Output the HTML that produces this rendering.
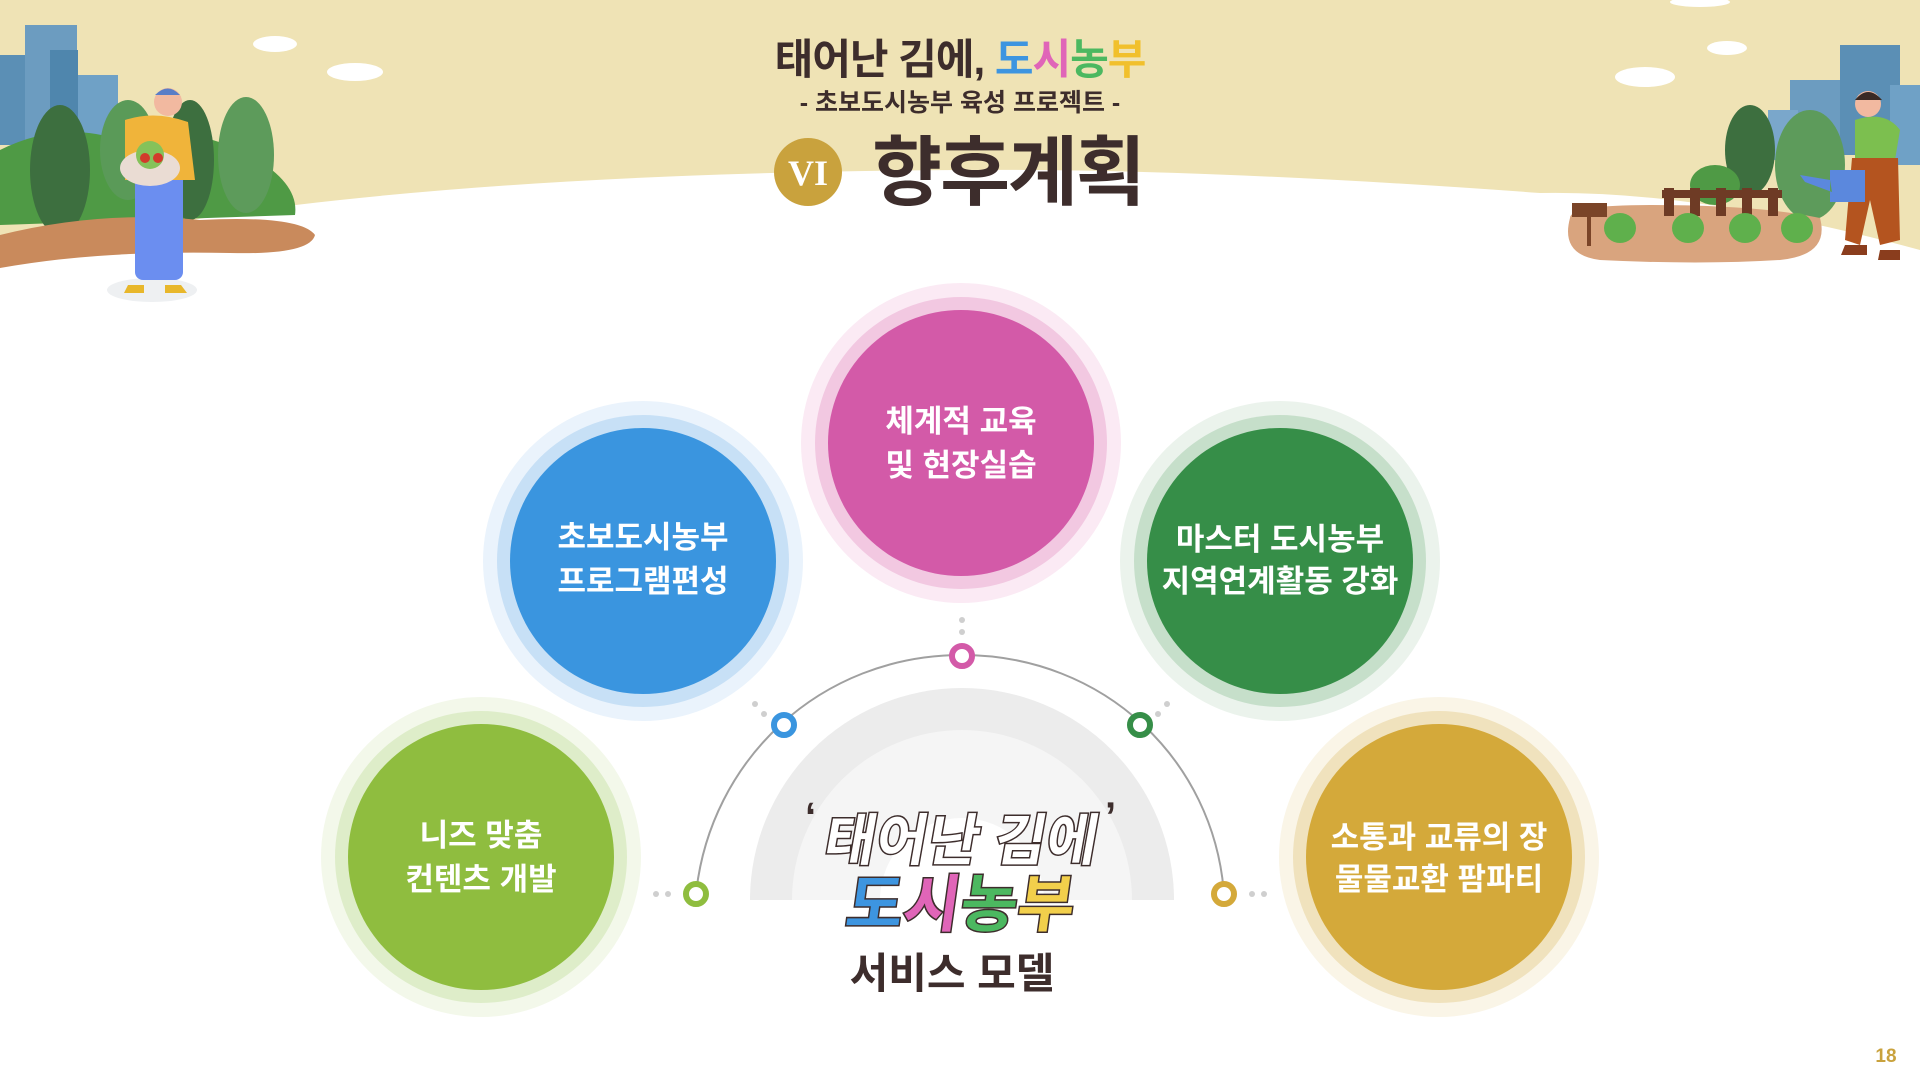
<!DOCTYPE html>
<html><head><meta charset="utf-8"><style>
html,body{margin:0;padding:0;background:#fff}
svg{display:block}
text{font-family:"Liberation Sans","Noto Sans CJK KR",sans-serif;font-weight:bold}
</style></head><body>
<svg width="1920" height="1080" viewBox="0 0 1920 1080" xmlns="http://www.w3.org/2000/svg">
<rect width="1920" height="1080" fill="#fff"/>
<path d="M0 0H1920V250Q1700 190 1540 193Q1200 168 960 170Q600 172 340 200Q150 220 0 262Z" fill="#efe3b5"/>
<g fill="#fff">
<ellipse cx="275" cy="44" rx="22" ry="8"/><ellipse cx="355" cy="72" rx="28" ry="9"/>
<ellipse cx="1727" cy="48" rx="20" ry="7"/><ellipse cx="1645" cy="77" rx="30" ry="10"/><ellipse cx="1700" cy="2" rx="30" ry="5"/>
</g>
<g>
<rect x="0" y="55" width="45" height="90" fill="#5b8fb5"/><rect x="25" y="25" width="52" height="120" fill="#6c9cc0"/><rect x="50" y="50" width="28" height="100" fill="#4f86ad"/><rect x="78" y="75" width="40" height="80" fill="#6fa1c6"/>
<path d="M0 150Q60 120 120 140Q170 120 240 150Q300 180 295 215L0 225Z" fill="#4f9a45"/>
<ellipse cx="60" cy="170" rx="30" ry="65" fill="#3d6f3f"/><ellipse cx="128" cy="150" rx="28" ry="50" fill="#5a9a58"/><ellipse cx="190" cy="160" rx="24" ry="60" fill="#3d6f3f"/><ellipse cx="246" cy="155" rx="28" ry="58" fill="#5d9b5b"/>
<path d="M0 235Q100 210 200 220Q300 215 315 235Q310 255 230 253Q100 250 0 268Z" fill="#c98a5c"/>
<ellipse cx="152" cy="290" rx="45" ry="12" fill="#eef0f2"/>
<rect x="135" y="170" width="48" height="110" rx="8" fill="#6b8ef0"/>
<path d="M125 120Q155 110 188 122L195 180L125 180Z" fill="#f0b43a"/>
<circle cx="168" cy="102" r="14" fill="#f2b9a0"/><path d="M155 95Q168 82 180 95Z" fill="#5a7ec7"/>
<ellipse cx="150" cy="168" rx="30" ry="18" fill="#eadcd3"/><circle cx="150" cy="155" r="14" fill="#85c25a"/><circle cx="145" cy="158" r="5" fill="#d23b2b"/><circle cx="158" cy="158" r="5" fill="#d23b2b"/>
<path d="M128 285h16v8h-20zM165 285h16l6 8h-22z" fill="#e8b72b"/>
</g>
<g>
<rect x="1840" y="45" width="60" height="110" fill="#5b8fb5"/><rect x="1790" y="80" width="50" height="80" fill="#6c9cc0"/><rect x="1890" y="85" width="30" height="80" fill="#6fa1c6"/><rect x="1768" y="110" width="30" height="50" fill="#7aa7cb"/>
<ellipse cx="1750" cy="150" rx="25" ry="45" fill="#3d6f3f"/><ellipse cx="1810" cy="165" rx="35" ry="55" fill="#5d9b5b"/><ellipse cx="1715" cy="185" rx="25" ry="20" fill="#4f9a45"/>
<path d="M1570 218Q1570 205 1650 205Q1760 205 1820 218Q1830 255 1780 260Q1700 265 1600 260Q1560 255 1570 218Z" fill="#d9a47e"/>
<rect x="1662" y="190" width="120" height="8" fill="#6e3b25"/><g fill="#6e3b25"><rect x="1664" y="188" width="10" height="28"/><rect x="1690" y="188" width="10" height="28"/><rect x="1716" y="188" width="10" height="28"/><rect x="1742" y="188" width="10" height="28"/><rect x="1768" y="188" width="10" height="28"/></g>
<rect x="1572" y="203" width="35" height="14" fill="#7a4428"/><rect x="1587" y="216" width="4" height="30" fill="#7a4428"/>
<g fill="#5fb04c"><ellipse cx="1620" cy="228" rx="16" ry="15"/><ellipse cx="1688" cy="228" rx="16" ry="15"/><ellipse cx="1745" cy="228" rx="16" ry="15"/><ellipse cx="1797" cy="228" rx="16" ry="15"/></g>
<path d="M1855 120Q1885 110 1900 130L1895 160L1855 165Z" fill="#7cbf4f"/>
<path d="M1852 158L1898 158L1900 240L1880 245L1870 200L1860 245L1845 240Z" fill="#b4541f"/>
<circle cx="1868" cy="104" r="13" fill="#f2b9a0"/><path d="M1855 100Q1868 84 1882 100Z" fill="#3a2a24"/>
<path d="M1830 170h35v32h-35zM1830 180L1800 175L1805 182L1832 192Z" fill="#5b88dd"/>
<path d="M1845 245h22v10h-26zM1880 250h20v10h-22z" fill="#8a3d1d"/>
</g>
<text x="960" y="74" font-size="42" text-anchor="middle" fill="#3d2d2c" letter-spacing="-1">태어난 김에, <tspan fill="#3d95e0">도</tspan><tspan fill="#e065b8">시</tspan><tspan fill="#4cb860">농</tspan><tspan fill="#f1c02c">부</tspan></text>
<text x="960" y="111" font-size="25" text-anchor="middle" fill="#3d2d2c">- 초보도시농부 육성 프로젝트 -</text>
<circle cx="808" cy="172" r="34" fill="#c9a23d"/>
<text x="808" y="185" font-size="36" text-anchor="middle" fill="#fff" style="font-family:'Liberation Serif',serif;font-weight:bold">VI</text>
<text x="1008" y="199" font-size="76" text-anchor="middle" fill="#3d2d2c" letter-spacing="-2">향후계획</text>
<path d="M750 900A212 212 0 0 1 1174 900Z" fill="#ececec"/>
<path d="M792 900A170 170 0 0 1 1132 900Z" fill="#f5f5f5"/>
<path d="M880 900A82 82 0 0 1 1044 900Z" fill="#fff"/>
<path d="M696 894C710 760 820 655 962 655C1104 655 1214 760 1224 894" fill="none" stroke="#a0a0a0" stroke-width="2"/>
<g fill="#cfcfcf">
<circle cx="962" cy="620" r="3"/><circle cx="962" cy="632" r="3"/>
<circle cx="755" cy="704" r="3"/><circle cx="764" cy="714" r="3"/>
<circle cx="1167" cy="704" r="3"/><circle cx="1158" cy="714" r="3"/>
<circle cx="656" cy="894" r="3"/><circle cx="668" cy="894" r="3"/>
<circle cx="1252" cy="894" r="3"/><circle cx="1264" cy="894" r="3"/>
</g>
<g fill="#fff" stroke-width="6">
<circle cx="962" cy="656" r="10" stroke="#d35aa8"/>
<circle cx="784" cy="725" r="10" stroke="#3a95df"/>
<circle cx="1140" cy="725" r="10" stroke="#368e48"/>
<circle cx="696" cy="894" r="10" stroke="#8fbd3f"/>
<circle cx="1224" cy="894" r="10" stroke="#d4a93a"/>
</g>
<text x="805" y="830" font-size="40" fill="#3d2d2c">‘</text>
<text x="1105" y="830" font-size="40" fill="#3d2d2c">’</text>
<text x="960" y="860" font-size="56" text-anchor="middle" fill="#fff" stroke="#3d2d2c" stroke-width="3" paint-order="stroke" transform="skewX(-10) translate(150,0)">태어난 김에</text>
<text x="960" y="926" font-size="62" text-anchor="middle" stroke="#3d2d2c" stroke-width="3" paint-order="stroke" transform="skewX(-8) translate(128,0)"><tspan fill="#3d95e0">도</tspan><tspan fill="#e065b8">시</tspan><tspan fill="#4cb860">농</tspan><tspan fill="#f2cf4b">부</tspan></text>
<text x="952" y="988" font-size="42" text-anchor="middle" fill="#3d2d2c">서비스 모델</text>
<g>
<circle cx="961" cy="443" r="160" fill="#fbeaf4"/><circle cx="961" cy="443" r="146" fill="#f2c8e1"/><circle cx="961" cy="443" r="133" fill="#d35aa8"/>
<circle cx="643" cy="561" r="160" fill="#eaf3fc"/><circle cx="643" cy="561" r="146" fill="#c7e0f6"/><circle cx="643" cy="561" r="133" fill="#3a95df"/>
<circle cx="1280" cy="561" r="160" fill="#ebf3ec"/><circle cx="1280" cy="561" r="146" fill="#c6dfca"/><circle cx="1280" cy="561" r="133" fill="#368e48"/>
<circle cx="481" cy="857" r="160" fill="#f3f8ea"/><circle cx="481" cy="857" r="146" fill="#deedc9"/><circle cx="481" cy="857" r="133" fill="#8fbd3f"/>
<circle cx="1439" cy="857" r="160" fill="#faf5e7"/><circle cx="1439" cy="857" r="146" fill="#f0e2bd"/><circle cx="1439" cy="857" r="133" fill="#d4a93a"/>
</g>
<g font-size="31" fill="#fff" text-anchor="middle">
<text x="961" y="432">체계적 교육</text><text x="961" y="476">및 현장실습</text>
<text x="643" y="548">초보도시농부</text><text x="643" y="592">프로그램편성</text>
<text x="1280" y="550">마스터 도시농부</text><text x="1280" y="592">지역연계활동 강화</text>
<text x="481" y="846">니즈 맞춤</text><text x="481" y="890">컨텐츠 개발</text>
<text x="1439" y="848">소통과 교류의 장</text><text x="1439" y="890">물물교환 팜파티</text>
</g>
<text x="1886" y="1062" font-size="19" text-anchor="middle" fill="#c9a23d">18</text>
</svg>
</body></html>
